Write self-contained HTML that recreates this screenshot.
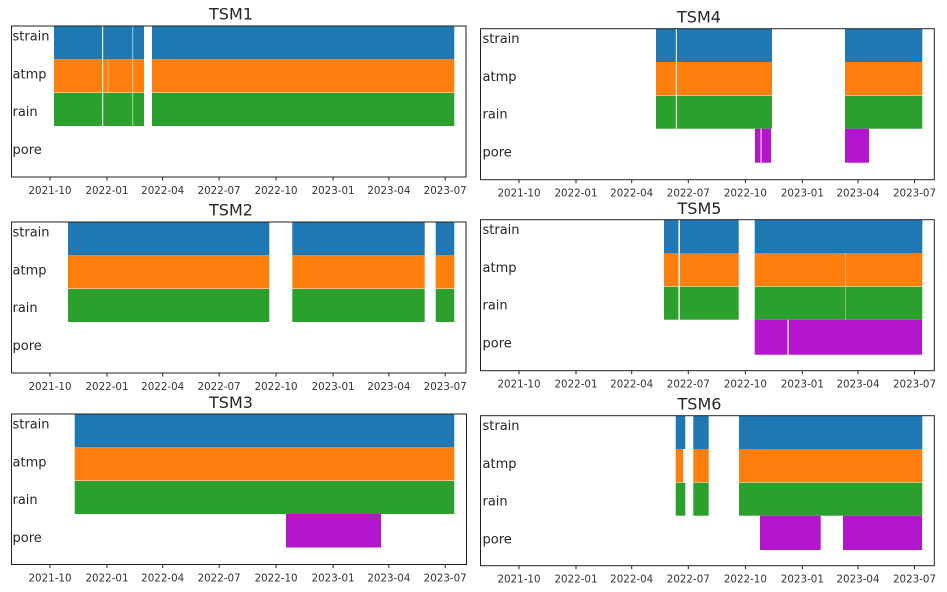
<!DOCTYPE html>
<html><head><meta charset="utf-8"><style>
html,body{margin:0;padding:0;background:#fff;}
svg{display:block;}
text{font-family:"DejaVu Sans","Liberation Sans",sans-serif;fill:#262626;}
.t{font-size:16px;text-anchor:middle;}
.k{font-size:10.3px;text-anchor:middle;fill:#333;}
.y{font-size:13px;}
.s{fill:#1f77b4}.a{fill:#ff7f0e}.r{fill:#2ca02c}.p{fill:#b215cc}
.f{fill:none;stroke:#222;stroke-width:1}
.tk{stroke:#222;stroke-width:1}
</style></head><body>
<svg width="947" height="592" viewBox="0 0 947 592" xmlns="http://www.w3.org/2000/svg">
<rect width="947" height="592" fill="#fff"/>

<!-- TSM1 -->
<text class="t" x="231" y="19.3">TSM1</text>
<g transform="translate(0,26)">
<rect class="s" x="54" y="0" width="90" height="33.3"/><rect class="s" x="152" y="0" width="302.3" height="33.3"/>
<rect class="a" x="54" y="33.3" width="90" height="33.2"/><rect class="a" x="152" y="33.3" width="302.3" height="33.2"/>
<rect class="r" x="54" y="67" width="90" height="33"/><rect class="r" x="152" y="67" width="302.3" height="33"/>
<rect x="102" y="0" width="1.2" height="100" fill="#fff" opacity="0.9"/>
<rect x="132.2" y="0" width="1" height="100" fill="#fff" opacity="0.6"/>
<rect x="107.8" y="33.3" width="0.8" height="33.2" fill="#fff" opacity="0.5"/>
<text class="y" x="12.5" y="14.5">strain</text><text class="y" x="12.5" y="52.5">atmp</text>
<text class="y" x="12.5" y="90">rain</text><text class="y" x="12.5" y="128">pore</text>
<rect class="f" x="11.5" y="0" width="454.5" height="151"/>
</g>
<g transform="translate(0,177)">
<line class="tk" x1="50" y1="0" x2="50" y2="3.5"/><line class="tk" x1="107" y1="0" x2="107" y2="3.5"/><line class="tk" x1="162.7" y1="0" x2="162.7" y2="3.5"/><line class="tk" x1="219.1" y1="0" x2="219.1" y2="3.5"/><line class="tk" x1="276.1" y1="0" x2="276.1" y2="3.5"/><line class="tk" x1="333.1" y1="0" x2="333.1" y2="3.5"/><line class="tk" x1="388.9" y1="0" x2="388.9" y2="3.5"/><line class="tk" x1="445.2" y1="0" x2="445.2" y2="3.5"/>
<text class="k" x="50" y="17">2021-10</text><text class="k" x="107" y="17">2022-01</text><text class="k" x="162.7" y="17">2022-04</text><text class="k" x="219.1" y="17">2022-07</text><text class="k" x="276.1" y="17">2022-10</text><text class="k" x="333.1" y="17">2023-01</text><text class="k" x="388.9" y="17">2023-04</text><text class="k" x="445.2" y="17">2023-07</text>
</g>

<!-- TSM2 -->
<text class="t" x="231" y="215.7">TSM2</text>
<g transform="translate(0,222)">
<rect class="s" x="68" y="0" width="201.3" height="33.3"/><rect class="s" x="292.3" y="0" width="132.4" height="33.3"/><rect class="s" x="435.7" y="0" width="18.6" height="33.3"/>
<rect class="a" x="68" y="33.3" width="201.3" height="33.2"/><rect class="a" x="292.3" y="33.3" width="132.4" height="33.2"/><rect class="a" x="435.7" y="33.3" width="18.6" height="33.2"/>
<rect class="r" x="68" y="67" width="201.3" height="33"/><rect class="r" x="292.3" y="67" width="132.4" height="33"/><rect class="r" x="435.7" y="67" width="18.6" height="33"/>
<text class="y" x="12.5" y="14.5">strain</text><text class="y" x="12.5" y="52.5">atmp</text>
<text class="y" x="12.5" y="90">rain</text><text class="y" x="12.5" y="128">pore</text>
<rect class="f" x="11.5" y="0" width="454.5" height="151"/>
</g>
<g transform="translate(0,373)">
<line class="tk" x1="50" y1="0" x2="50" y2="3.5"/><line class="tk" x1="107" y1="0" x2="107" y2="3.5"/><line class="tk" x1="162.7" y1="0" x2="162.7" y2="3.5"/><line class="tk" x1="219.1" y1="0" x2="219.1" y2="3.5"/><line class="tk" x1="276.1" y1="0" x2="276.1" y2="3.5"/><line class="tk" x1="333.1" y1="0" x2="333.1" y2="3.5"/><line class="tk" x1="388.9" y1="0" x2="388.9" y2="3.5"/><line class="tk" x1="445.2" y1="0" x2="445.2" y2="3.5"/>
<text class="k" x="50" y="17">2021-10</text><text class="k" x="107" y="17">2022-01</text><text class="k" x="162.7" y="17">2022-04</text><text class="k" x="219.1" y="17">2022-07</text><text class="k" x="276.1" y="17">2022-10</text><text class="k" x="333.1" y="17">2023-01</text><text class="k" x="388.9" y="17">2023-04</text><text class="k" x="445.2" y="17">2023-07</text>
</g>

<!-- TSM3 -->
<text class="t" x="231" y="408">TSM3</text>
<g transform="translate(0,414)">
<rect class="s" x="74.7" y="0" width="379.6" height="33.3"/>
<rect class="a" x="74.7" y="33.3" width="379.6" height="33.2"/>
<rect class="r" x="74.7" y="67" width="379.6" height="33"/>
<rect class="p" x="286" y="100" width="95" height="33.5"/>
<text class="y" x="12.5" y="14.5">strain</text><text class="y" x="12.5" y="52.5">atmp</text>
<text class="y" x="12.5" y="90">rain</text><text class="y" x="12.5" y="128">pore</text>
<rect class="f" x="11.5" y="0" width="455" height="150.5"/>
</g>
<g transform="translate(0,564.5)">
<line class="tk" x1="50" y1="0" x2="50" y2="3.5"/><line class="tk" x1="107" y1="0" x2="107" y2="3.5"/><line class="tk" x1="162.7" y1="0" x2="162.7" y2="3.5"/><line class="tk" x1="219.1" y1="0" x2="219.1" y2="3.5"/><line class="tk" x1="276.1" y1="0" x2="276.1" y2="3.5"/><line class="tk" x1="333.1" y1="0" x2="333.1" y2="3.5"/><line class="tk" x1="388.9" y1="0" x2="388.9" y2="3.5"/><line class="tk" x1="445.2" y1="0" x2="445.2" y2="3.5"/>
<text class="k" x="50" y="17">2021-10</text><text class="k" x="107" y="17">2022-01</text><text class="k" x="162.7" y="17">2022-04</text><text class="k" x="219.1" y="17">2022-07</text><text class="k" x="276.1" y="17">2022-10</text><text class="k" x="333.1" y="17">2023-01</text><text class="k" x="388.9" y="17">2023-04</text><text class="k" x="445.2" y="17">2023-07</text>
</g>

<!-- TSM4 -->
<text class="t" x="699" y="22.7">TSM4</text>
<g transform="translate(0,28.7)">
<rect class="s" x="656" y="0" width="116" height="33.3"/><rect class="s" x="845" y="0" width="77.3" height="33.3"/>
<rect class="a" x="656" y="33.3" width="116" height="33.2"/><rect class="a" x="845" y="33.3" width="77.3" height="33.2"/>
<rect class="r" x="656" y="67" width="116" height="33"/><rect class="r" x="845" y="67" width="77.3" height="33"/>
<rect x="675.8" y="0" width="1.2" height="100" fill="#fff" opacity="0.85"/>
<rect class="p" x="755" y="100" width="16" height="34"/><rect class="p" x="845" y="100" width="24" height="34"/>
<rect x="760.6" y="100" width="1" height="34" fill="#fff"/>
<text class="y" x="482.5" y="14.5">strain</text><text class="y" x="482.5" y="52.5">atmp</text>
<text class="y" x="482.5" y="90">rain</text><text class="y" x="482.5" y="128">pore</text>
<rect class="f" x="480.5" y="0" width="453.8" height="151"/>
</g>
<g transform="translate(0,179.7)">
<line class="tk" x1="519" y1="0" x2="519" y2="3.5"/><line class="tk" x1="576" y1="0" x2="576" y2="3.5"/><line class="tk" x1="631.7" y1="0" x2="631.7" y2="3.5"/><line class="tk" x1="688.3" y1="0" x2="688.3" y2="3.5"/><line class="tk" x1="745.4" y1="0" x2="745.4" y2="3.5"/><line class="tk" x1="802.4" y1="0" x2="802.4" y2="3.5"/><line class="tk" x1="858" y1="0" x2="858" y2="3.5"/><line class="tk" x1="914.5" y1="0" x2="914.5" y2="3.5"/>
<text class="k" x="519" y="17">2021-10</text><text class="k" x="576" y="17">2022-01</text><text class="k" x="631.7" y="17">2022-04</text><text class="k" x="688.3" y="17">2022-07</text><text class="k" x="745.4" y="17">2022-10</text><text class="k" x="802.4" y="17">2023-01</text><text class="k" x="858" y="17">2023-04</text><text class="k" x="914.5" y="17">2023-07</text>
</g>

<!-- TSM5 -->
<text class="t" x="699.5" y="214">TSM5</text>
<g transform="translate(0,219.7)">
<rect class="s" x="664" y="0" width="74.7" height="33.3"/><rect class="s" x="754.7" y="0" width="167.6" height="33.3"/>
<rect class="a" x="664" y="33.3" width="74.7" height="33.2"/><rect class="a" x="754.7" y="33.3" width="167.6" height="33.2"/>
<rect class="r" x="664" y="67" width="74.7" height="33"/><rect class="r" x="754.7" y="67" width="167.6" height="33"/>
<rect x="678.4" y="0" width="1.6" height="100" fill="#fff"/>
<rect x="845" y="33.3" width="0.8" height="66.7" fill="#fff" opacity="0.45"/>
<rect class="p" x="754.7" y="100" width="167.3" height="35"/>
<rect x="787.5" y="100" width="1.2" height="35" fill="#fff"/>
<text class="y" x="482.5" y="14.5">strain</text><text class="y" x="482.5" y="52.5">atmp</text>
<text class="y" x="482.5" y="90">rain</text><text class="y" x="482.5" y="128">pore</text>
<rect class="f" x="480.5" y="0" width="453.8" height="151"/>
</g>
<g transform="translate(0,370.7)">
<line class="tk" x1="519" y1="0" x2="519" y2="3.5"/><line class="tk" x1="576" y1="0" x2="576" y2="3.5"/><line class="tk" x1="631.7" y1="0" x2="631.7" y2="3.5"/><line class="tk" x1="688.3" y1="0" x2="688.3" y2="3.5"/><line class="tk" x1="745.4" y1="0" x2="745.4" y2="3.5"/><line class="tk" x1="802.4" y1="0" x2="802.4" y2="3.5"/><line class="tk" x1="858" y1="0" x2="858" y2="3.5"/><line class="tk" x1="914.5" y1="0" x2="914.5" y2="3.5"/>
<text class="k" x="519" y="17">2021-10</text><text class="k" x="576" y="17">2022-01</text><text class="k" x="631.7" y="17">2022-04</text><text class="k" x="688.3" y="17">2022-07</text><text class="k" x="745.4" y="17">2022-10</text><text class="k" x="802.4" y="17">2023-01</text><text class="k" x="858" y="17">2023-04</text><text class="k" x="914.5" y="17">2023-07</text>
</g>

<!-- TSM6 -->
<text class="t" x="699.5" y="409.7">TSM6</text>
<g transform="translate(0,415.7)">
<rect class="s" x="675.7" y="0" width="9.6" height="33.3"/><rect class="s" x="693.3" y="0" width="15.4" height="33.3"/><rect class="s" x="739" y="0" width="183.3" height="33.3"/>
<rect class="a" x="675.7" y="33.3" width="7.3" height="33.2"/><rect class="a" x="693.3" y="33.3" width="15.4" height="33.2"/><rect class="a" x="739" y="33.3" width="183.3" height="33.2"/>
<rect class="r" x="675.7" y="67" width="9.6" height="33"/><rect class="r" x="693.3" y="67" width="15.4" height="33"/><rect class="r" x="739" y="67" width="183.3" height="33"/>
<rect class="p" x="760" y="100" width="60.7" height="34.3"/><rect class="p" x="843" y="100" width="79" height="34.3"/>
<text class="y" x="482.5" y="14.5">strain</text><text class="y" x="482.5" y="52.5">atmp</text>
<text class="y" x="482.5" y="90">rain</text><text class="y" x="482.5" y="128">pore</text>
<rect class="f" x="480.5" y="0" width="453.8" height="150"/>
</g>
<g transform="translate(0,565.7)">
<line class="tk" x1="519" y1="0" x2="519" y2="3.5"/><line class="tk" x1="576" y1="0" x2="576" y2="3.5"/><line class="tk" x1="631.7" y1="0" x2="631.7" y2="3.5"/><line class="tk" x1="688.3" y1="0" x2="688.3" y2="3.5"/><line class="tk" x1="745.4" y1="0" x2="745.4" y2="3.5"/><line class="tk" x1="802.4" y1="0" x2="802.4" y2="3.5"/><line class="tk" x1="858" y1="0" x2="858" y2="3.5"/><line class="tk" x1="914.5" y1="0" x2="914.5" y2="3.5"/>
<text class="k" x="519" y="17">2021-10</text><text class="k" x="576" y="17">2022-01</text><text class="k" x="631.7" y="17">2022-04</text><text class="k" x="688.3" y="17">2022-07</text><text class="k" x="745.4" y="17">2022-10</text><text class="k" x="802.4" y="17">2023-01</text><text class="k" x="858" y="17">2023-04</text><text class="k" x="914.5" y="17">2023-07</text>
</g>
</svg>
</body></html>
